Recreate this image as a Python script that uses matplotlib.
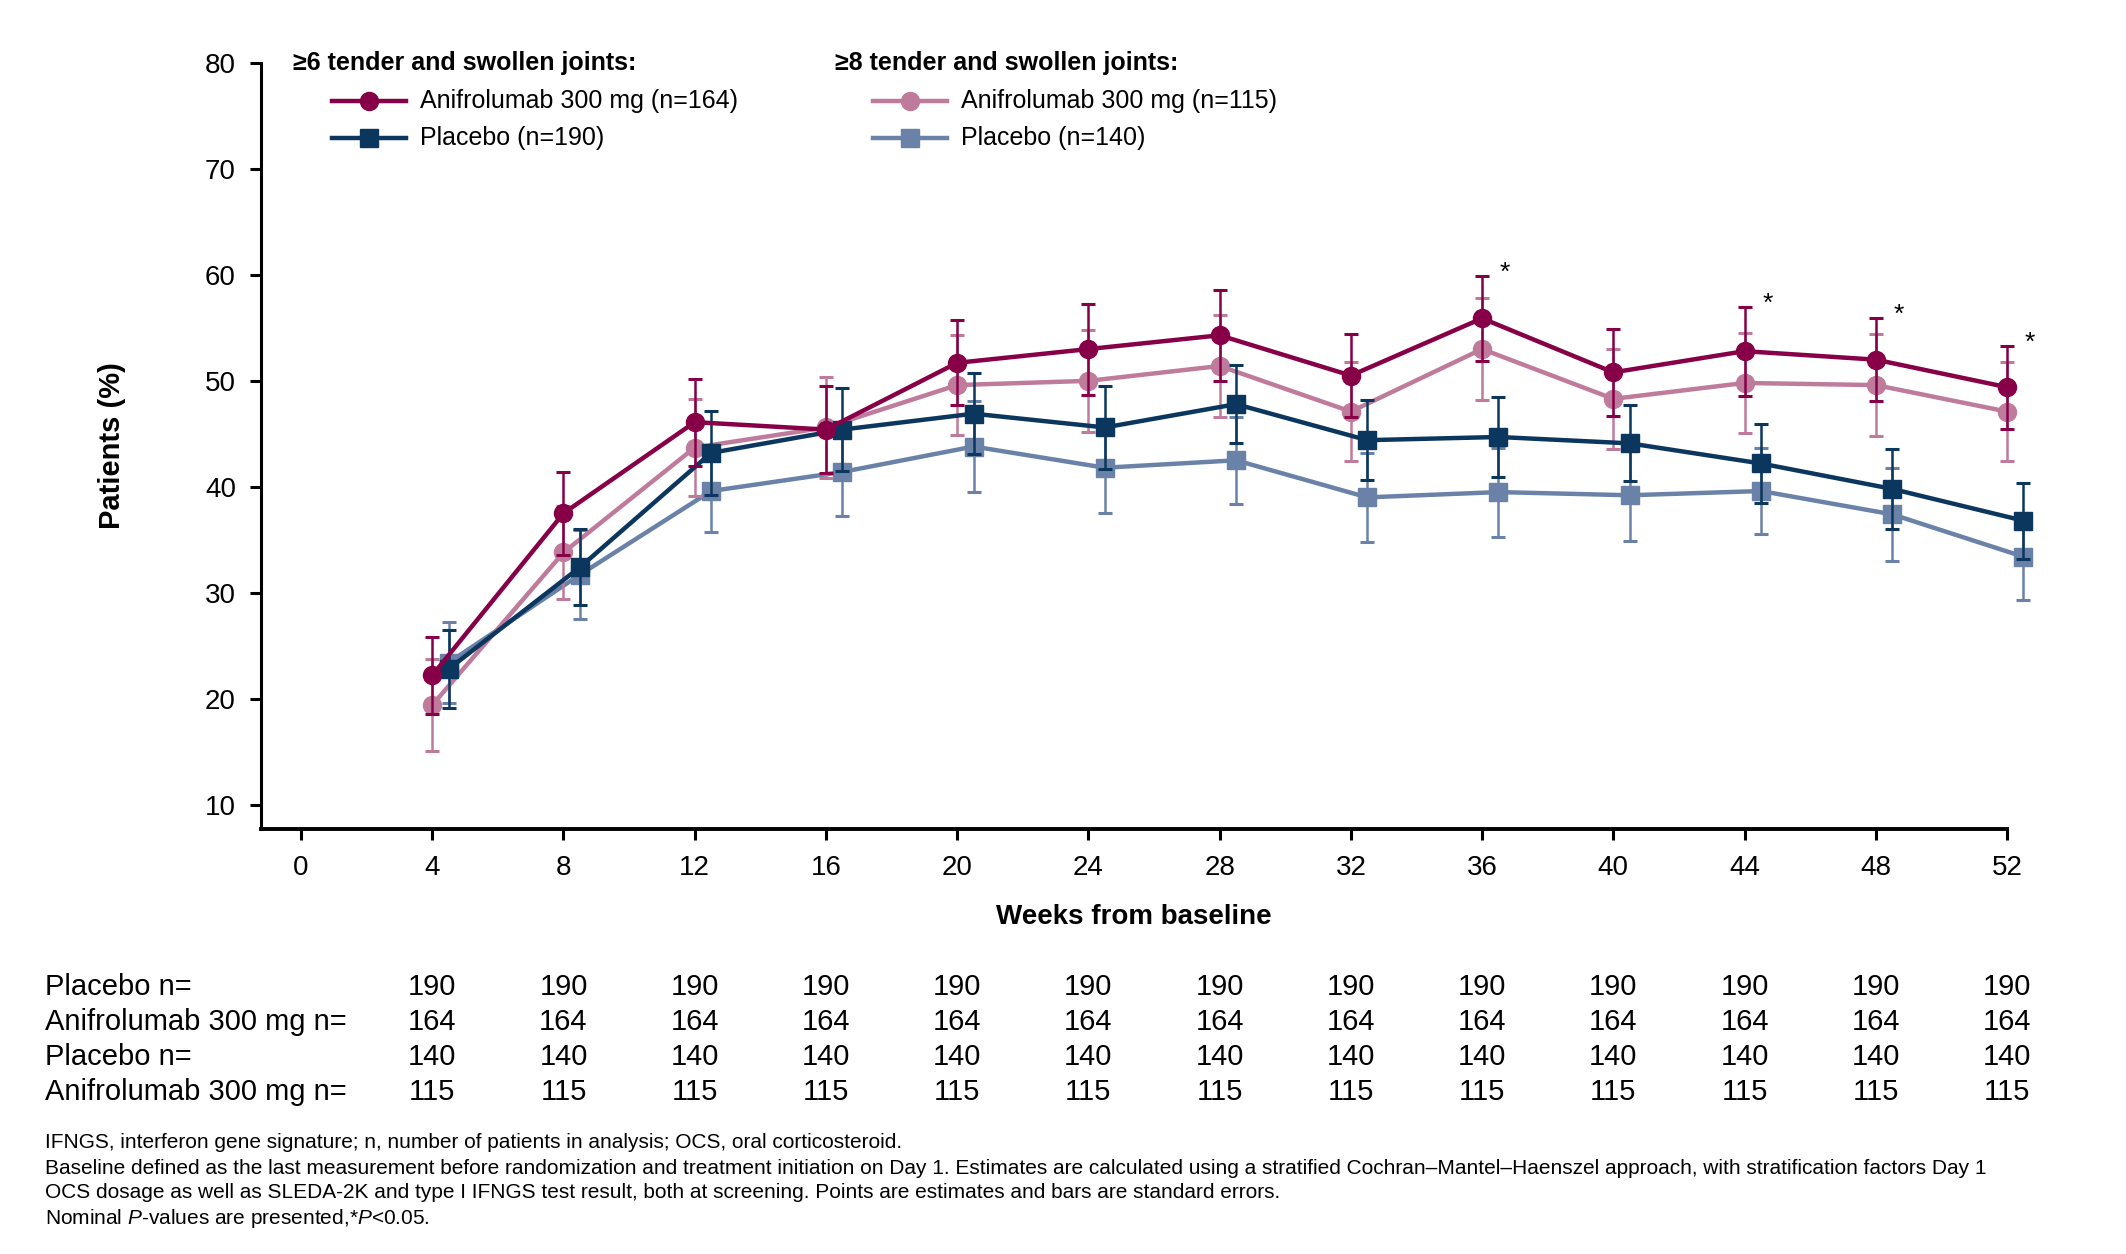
import matplotlib
matplotlib.use("Agg")
import matplotlib.pyplot as plt
from matplotlib.lines import Line2D

plt.rcParams['font.family'] = ['Liberation Sans', 'DejaVu Sans']
plt.rcParams['mathtext.fontset'] = 'custom'
plt.rcParams['mathtext.it'] = 'Liberation Sans:italic'
plt.rcParams['mathtext.rm'] = 'Liberation Sans'

weeks = [4, 8, 12, 16, 20, 24, 28, 32, 36, 40, 44, 48, 52]

# >=6 tender and swollen joints
anif6 = [22.2, 37.5, 46.1, 45.4, 51.7, 53.0, 54.3, 50.5, 55.9, 50.8, 52.8, 52.0, 49.4]
anif6_se = [3.6, 3.9, 4.1, 4.1, 4.0, 4.3, 4.3, 3.9, 4.0, 4.1, 4.2, 3.9, 3.9]
pbo6 = [22.8, 32.4, 43.2, 45.4, 46.9, 45.6, 47.8, 44.4, 44.7, 44.1, 42.2, 39.8, 36.8]
pbo6_se = [3.7, 3.6, 4.0, 3.9, 3.8, 3.9, 3.7, 3.8, 3.8, 3.6, 3.7, 3.8, 3.6]

# >=8 tender and swollen joints
anif8 = [19.4, 33.8, 43.7, 45.6, 49.6, 50.0, 51.4, 47.1, 53.0, 48.3, 49.8, 49.6, 47.1]
anif8_se = [4.3, 4.4, 4.6, 4.8, 4.7, 4.8, 4.8, 4.7, 4.8, 4.7, 4.7, 4.8, 4.7]
pbo8 = [23.4, 31.7, 39.6, 41.4, 43.8, 41.8, 42.5, 39.0, 39.5, 39.2, 39.6, 37.4, 33.4]
pbo8_se = [3.8, 4.2, 3.9, 4.2, 4.3, 4.3, 4.1, 4.2, 4.2, 4.3, 4.1, 4.4, 4.1]

star_weeks = [36, 44, 48, 52]

row_labels = ["Placebo n=", "Anifrolumab 300 mg n=", "Placebo n=", "Anifrolumab 300 mg n="]
row_counts = [190, 164, 140, 115]

c_anif6 = "#870047"
c_pbo6 = "#0B365E"
c_anif8 = "#BF7B9B"
c_pbo8 = "#6A82A7"

fig = plt.figure(figsize=(21.26, 12.54), dpi=100)
ax = fig.add_axes([261 / 2126, 1 - 829 / 1254, (2007 - 261) / 2126, (829 - 63) / 1254])

sq_off = 0.5
series = [
    (pbo8, pbo8_se, c_pbo8, 's', sq_off, 2),
    (anif8, anif8_se, c_anif8, 'o', 0.0, 3),
    (pbo6, pbo6_se, c_pbo6, 's', sq_off, 4),
    (anif6, anif6_se, c_anif6, 'o', 0.0, 5),
]
for vals, se, col, mk, off, z in series:
    xs = [w + off for w in weeks]
    cont = ax.errorbar(xs, vals, yerr=se, color=col, lw=3.2, marker=mk,
                       ms=13 if mk == 'o' else 12.5, capsize=5, elinewidth=1.8,
                       capthick=2.2, zorder=z)
    for art in cont.get_children():
        art.set_clip_on(False)

for w in star_weeks:
    i = weeks.index(w)
    ax.text(w + 0.7, anif6[i] + anif6_se[i] + 0.3, "*", fontsize=19,
            ha='center', va='center')

ax.set_xlim(-1.22, 52)
ax.set_ylim(7.7, 80)
ax.set_xticks(range(0, 53, 4))
ax.set_yticks(range(10, 81, 10))
ax.spines['top'].set_visible(False)
ax.spines['right'].set_visible(False)
ax.spines['left'].set_linewidth(2.2)
ax.spines['bottom'].set_linewidth(2.8)
ax.tick_params(axis='both', labelsize=20, width=2.2, length=8)
ax.tick_params(axis='y', pad=10)
ax.tick_params(axis='x', pad=11)
ax.set_xlabel("Weeks from baseline", fontsize=20, fontweight='bold', labelpad=16)
ax.set_ylabel("Patients (%)", fontsize=21, fontweight='bold', labelpad=57)

# legend blocks
def px(x, y):
    return x / 2126, 1 - y / 1254

fig.text(*px(293, 63), "≥6 tender and swollen joints:", fontsize=18,
         fontweight='bold', va='center')
fig.text(*px(835, 63), "≥8 tender and swollen joints:", fontsize=18,
         fontweight='bold', va='center')
legend_items = [
    (332, 101, c_anif6, 'o', "Anifrolumab 300 mg (n=164)"),
    (332, 138, c_pbo6, 's', "Placebo (n=190)"),
    (873, 101, c_anif8, 'o', "Anifrolumab 300 mg (n=115)"),
    (873, 138, c_pbo8, 's', "Placebo (n=140)"),
]
for x0, y0, col, mk, lab in legend_items:
    xa, ya = px(x0, y0)
    xb, _ = px(x0 + 74, y0)
    xm, _ = px(x0 + 37, y0)
    fig.add_artist(Line2D([xa, xb], [ya, ya], color=col, lw=3.2,
                          transform=fig.transFigure))
    fig.add_artist(Line2D([xm], [ya], color=col, marker=mk,
                          ms=13 if mk == 'o' else 12.5, lw=0,
                          transform=fig.transFigure))
    fig.text(*px(x0 + 88, y0), lab, fontsize=18, va='center')

# patients at risk table
for r, (lab, n) in enumerate(zip(row_labels, row_counts)):
    yr = 987 + r * 35
    fig.text(*px(45, yr), lab, fontsize=21, va='center')
    for w in weeks:
        xd = ax.transData.transform((w, 0))[0] / fig.dpi / fig.get_figwidth()
        fig.text(xd, 1 - yr / 1254, str(n), fontsize=21, va='center', ha='center')

notes = [
    "IFNGS, interferon gene signature; n, number of patients in analysis; OCS, oral corticosteroid.",
    "Baseline defined as the last measurement before randomization and treatment initiation on Day 1. "
    "Estimates are calculated using a stratified Cochran\u2013Mantel\u2013Haenszel approach, with stratification factors Day 1",
    "OCS dosage as well as SLEDA-2K and type I IFNGS test result, both at screening. "
    "Points are estimates and bars are standard errors.",
    "Nominal $\\mathit{P}$-values are presented,*$\\mathit{P}$<0.05.",
]
for i, t in enumerate(notes):
    fig.text(*px(45, 1143 + i * 25), t, fontsize=15, va='center')

fig.savefig("out.png", dpi=100)
